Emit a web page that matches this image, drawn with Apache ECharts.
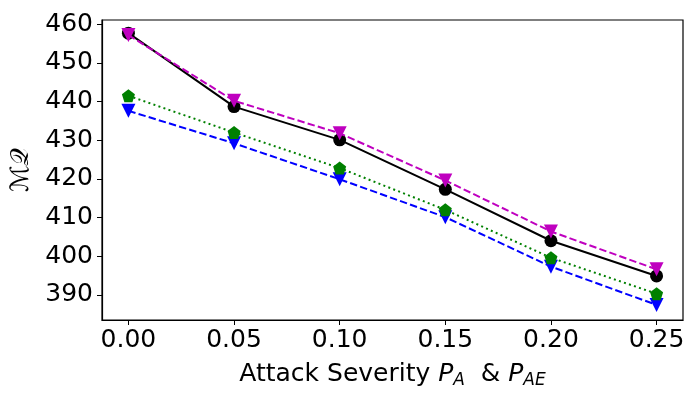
<!DOCTYPE html>
<html><head><meta charset="utf-8">
<script src="https://cdn.jsdelivr.net/npm/echarts@6/dist/echarts.min.js"></script>
<style>html,body{margin:0;padding:0;background:#fff}#c{width:700px;height:400px}</style>
</head><body><div id="c"></div>
<script>
const xs = [0.00, 0.05, 0.10, 0.15, 0.20, 0.25];
const blackVals = [457.7, 438.7, 430.1, 417.3, 404.0, 394.9];
const magentaVals = [457.2, 440.2, 431.8, 419.6, 406.4, 396.6];
const greenVals = [441.5, 432.0, 422.8, 412.0, 399.6, 390.3];
const blueVals = [437.6, 429.2, 419.9, 410.1, 397.3, 387.4];
const yTicks = [390, 400, 410, 420, 430, 440, 450, 460];
const xTicks = [0.00, 0.05, 0.10, 0.15, 0.20, 0.25];

const pent = 'path://M0,-1 L0.951,-0.309 L0.588,0.809 L-0.588,0.809 L-0.951,-0.309 Z';
const pair = v => xs.map((x, i) => [x, v[i]]);
const font = 'DejaVu Sans';

function mk(name, vals, color, type, symbol, size, rot, z) {
  return {
    name, type: 'line', data: pair(vals), z,
    lineStyle: { color, width: 2, type },
    itemStyle: { color, borderWidth: 0 },
    symbol, symbolSize: size, symbolRotate: rot, showSymbol: true,
    animation: false, silent: true
  };
}

const chart = echarts.init(document.getElementById('c'), null, { renderer: 'canvas' });
chart.setOption({
  animation: false,
  grid: { left: 102, right: 17, top: 20, bottom: 80, show: true, borderColor: '#000', borderWidth: 1.2 },
  xAxis: {
    type: 'value', min: -0.0125, max: 0.2625,
    axisLine: { show: true, onZero: false, lineStyle: { color: '#000', width: 1.2 } },
    axisTick: { show: true, length: 5, inside: false, customValues: xTicks, lineStyle: { color: '#000', width: 1 } },
    axisLabel: { customValues: xTicks, formatter: v => v.toFixed(2), color: '#000', fontFamily: font, fontSize: 25, margin: 8 },
    splitLine: { show: false },
    name: '{n|Attack Severity }{i|P}{s|A}{n|  & }{i|P}{s|AE}',
    nameLocation: 'middle', nameGap: 40,
    nameTextStyle: {
      color: '#000', fontFamily: font, fontSize: 25,
      rich: {
        n: { fontFamily: font, fontSize: 25, color: '#000' },
        i: { fontFamily: font, fontSize: 25, fontStyle: 'italic', color: '#000' },
        s: { fontFamily: font, fontSize: 17, fontStyle: 'italic', color: '#000', padding: [12, 0, 0, 0] }
      }
    }
  },
  yAxis: {
    type: 'value', min: 383.5, max: 461.1,
    axisLine: { show: true, onZero: false, lineStyle: { color: '#000', width: 1.2 } },
    axisTick: { show: true, length: 5, inside: false, customValues: yTicks, lineStyle: { color: '#000', width: 1 } },
    axisLabel: { customValues: yTicks, color: '#000', fontFamily: font, fontSize: 25, margin: 9 },
    splitLine: { show: false },
    name: 'ℳ𝒬', nameLocation: 'middle', nameGap: 48, nameRotate: 90,
    nameTextStyle: { color: '#000', fontFamily: font, fontSize: 25 }
  },
  series: [
    mk('black', blackVals, '#000000', 'solid', 'circle', 13, 0, 2),
    mk('green', greenVals, '#008000', [2, 3.3], pent, 13, 0, 3),
    mk('blue', blueVals, '#0000ff', [7.4, 3.2], 'triangle', 14, 180, 2),
    mk('magenta', magentaVals, '#bf00bf', [7.4, 3.2], 'triangle', 14, 180, 4)
  ]
});
</script></body></html>
